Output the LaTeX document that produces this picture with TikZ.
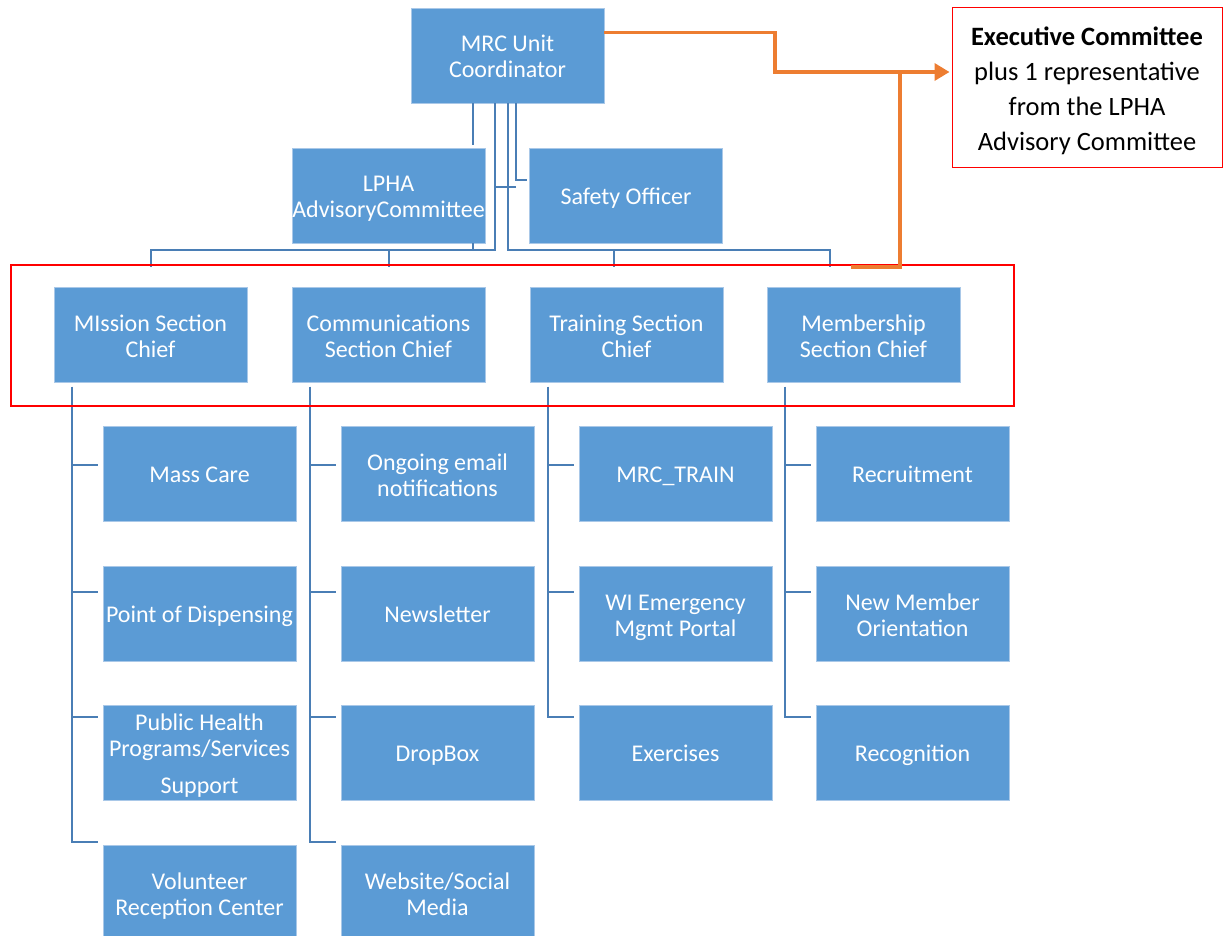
\documentclass[tikz,border=0pt]{standalone}
\usepackage{fontspec}
\setmainfont{Carlito}
\usetikzlibrary{arrows.meta, positioning}
\definecolor{boxblue}{HTML}{5B9BD5}
\definecolor{boxedge}{HTML}{A9C8E8}
\definecolor{linkblue}{HTML}{4A7EB5}
\definecolor{execorange}{HTML}{ED7D31}

\begin{document}
\begin{tikzpicture}[x=1pt, y=-1pt,
    box/.style={fill=boxblue, draw=boxedge, line width=0.8pt, text=white, align=center,
        minimum width=193pt, minimum height=95pt, inner sep=0pt,
        font=\fontsize{24}{26}\selectfont,
        execute at begin node={\rule[-4.6pt]{0pt}{26.6pt}},
        execute at end node={\rule[-4.6pt]{0pt}{26.6pt}}},
    twobox/.style={box, execute at begin node={\rule[-4.6pt]{0pt}{53.6pt}}},
    threebox/.style={box, execute at begin node={\rule[-4.6pt]{0pt}{90.6pt}}},
    conn/.style={draw=linkblue, line width=2pt},
    orangeline/.style={draw=execorange, line width=3.5pt}]
\useasboundingbox (0,0) rectangle (1223,936);
\node[twobox] (coord) at (507.5,55.5) {MRC Unit\\Coordinator};
\node[twobox] (lpha) at (388.5,195.5) {LPHA\\AdvisoryCommittee};
\node[box] (safe) at (626,195.5) {Safety Officer};
\foreach \n/\x/\txt in {mis/150.5/{MIssion Section\\Chief}, com/388.5/{Communications\\Section Chief},
    trn/626.5/{Training Section\\Chief}, mem/863.5/{Membership\\Section Chief}} {
    \node[twobox] (\n) at (\x,335) {\txt};
}
\foreach \n/\s/\x/\y/\txt in {mis1/box/199.5/474/{Mass Care}, mis2/box/199.5/614/{Point of Dispensing},
    mis3/threebox/199.5/753/{Public Health\\Programs/Services\\[11pt]Support}, mis4/twobox/199.5/893/{Volunteer\\Reception Center},
    com1/twobox/437.5/474/{Ongoing email\\notifications}, com2/box/437.5/614/{Newsletter},
    com3/box/437.5/753/{DropBox}, com4/twobox/437.5/893/{Website/Social\\Media},
    trn1/box/675.5/474/{MRC\_TRAIN}, trn2/twobox/675.5/614/{WI Emergency\\Mgmt Portal}, trn3/box/675.5/753/{Exercises},
    mem1/box/912.5/474/{Recruitment}, mem2/twobox/912.5/614/{New Member\\Orientation}, mem3/box/912.5/753/{Recognition}} {
    \node[\s] (\n) at (\x,\y) {\txt};
}
\node[draw=red, line width=1pt, minimum width=270pt, minimum height=160pt, inner sep=0pt,
    align=center, font=\fontsize{26.5}{35}\selectfont, execute at begin node={\rule{0pt}{129pt}}] (exec) at (1087,88)
    {\textbf{Executive Committee}\\plus 1 representative\\from the LPHA\\Advisory Committee};
\coordinate (busy) at (0,250);
\draw[conn] ([xshift=-34.5pt]coord.south) -- ++(0,42);
\draw[conn] ([xshift=84.5pt]lpha.south) -- ++(0,7);
\draw[conn] ([xshift=-12.5pt]coord.south) coordinate (jl) -- (jl |- busy) -| ([yshift=20pt]mis.north);
\draw[conn] (jl |- busy) -| ([yshift=20pt]com.north);
\draw[conn] (coord.south) -- (coord.south |- busy) -| ([xshift=-12.5pt,yshift=20pt]trn.north);
\draw[conn] (coord.south |- busy) -| ([xshift=-33.5pt,yshift=20pt]mem.north);
\draw[conn] ([xshift=8.5pt]coord.south) coordinate (jr) |- ([xshift=-2pt,yshift=15pt]safe.west);
\draw[conn] (jr) ++(0,84) -- ++(-21,0);
\foreach \c/\r in {mis/4, com/4, trn/3, mem/3} {
    \coordinate (\c t) at ([xshift=18pt,yshift=-4pt]\c.south west);
    \foreach \dy [count=\i] in {-39,-26,-12,3} {
        \ifnum\i>\r\relax\else
            \draw[conn] (\c t) |- ([xshift=-5pt,yshift=\dy pt]\c\i.north west);
        \fi
    }
}
\draw[red, line width=2pt] (11,265) rectangle (1014,406);
\coordinate (bend) at (900,72);
\draw[orangeline, -{Triangle[length=15pt, width=17pt]}] ([yshift=-25pt]coord.north east) -| (775,72) -- ([xshift=-2pt]exec.west |- bend);
\draw[orangeline] (851,267) -| (bend);
\end{tikzpicture}
\end{document}
